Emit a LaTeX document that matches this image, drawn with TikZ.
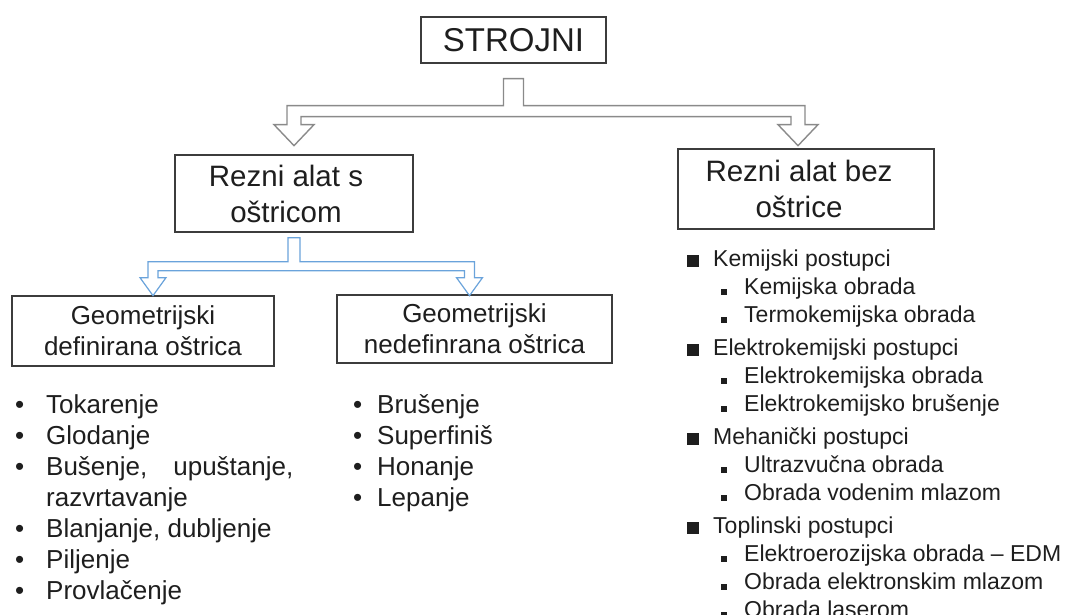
\documentclass[tikz,border=0pt]{standalone}
\usepackage{fontspec}
\setmainfont{Liberation Sans}
\usetikzlibrary{calc}
\definecolor{BoxLine}{HTML}{3C3C3C}
\definecolor{ForkGray}{HTML}{8A8A8A}
\definecolor{ForkBlue}{HTML}{6AA3DB}
\definecolor{TextDark}{HTML}{1E1E1E}
\newcommand{\krug}[1]{\makebox[#1][l]{•}}
\newcommand{\kvadrat}{\makebox[26pt][l]{\rule{12pt}{12pt}}}
\newcommand{\kvadratic}{\hspace*{34pt}\makebox[23pt][l]{\rule{6pt}{6pt}}}

\begin{document}
\begin{tikzpicture}[
  x=1pt,y=-1pt,
  every node/.style={text=TextDark},
  box/.style={draw=BoxLine,line width=1.3pt,align=center,inner sep=0pt},
  forka/.style={draw=ForkGray,line width=1.4pt,fill=white},
  forkb/.style={draw=ForkBlue,line width=1.2pt,fill=white},
  lista/.style={anchor=north west,align=left,inner sep=0pt}
]
\useasboundingbox (0,0) rectangle (1065,615);
\node[box,minimum width=185pt,minimum height=46pt,font=\fontsize{33}{38}\selectfont] (strojni) at (513.5,40) {STROJNI};
\node[box,minimum width=238pt,minimum height=77pt,font=\fontsize{29.5}{36}\selectfont] (rezsa) at (294,193.5) {Rezni alat s\hspace*{16pt}\\oštricom\hspace*{16pt}};
\node[box,minimum width=256pt,minimum height=80pt,font=\fontsize{29.5}{36}\selectfont] (rezbez) at (806,189) {Rezni alat bez\hspace*{14pt}\\oštrice\hspace*{14pt}};
\node[box,minimum width=262pt,minimum height=70pt,font=\fontsize{26}{31}\selectfont] (geodef) at (143,331) {Geometrijski\\definirana oštrica};
\node[box,minimum width=275pt,minimum height=68pt,font=\fontsize{26}{31}\selectfont] (geoned) at (474.5,329) {Geometrijski\\nedefinrana oštrica};

\draw[forka] let \p1=(strojni.south), \p2=(rezsa.north), \p3=($(rezbez.north)+(-8,0)$) in
  (\x1-10pt,\y1-15pt) -- (\x1+10pt,\y1-15pt) -- (\x1+10pt,\y1-42pt) -- (\x3+7pt,\y1-42pt)
  -- (\x3+7pt,\y1-61pt) -- (\x3+20pt,\y1-61pt) -- (\x3,\y1-82pt) -- (\x3-20pt,\y1-61pt)
  -- (\x3-7pt,\y1-61pt) -- (\x3-7pt,\y1-53pt) -- (\x2+7pt,\y1-53pt) -- (\x2+7pt,\y1-61pt)
  -- (\x2+20pt,\y1-61pt) -- (\x2,\y1-82pt) -- (\x2-20pt,\y1-61pt) -- (\x2-7pt,\y1-61pt)
  -- (\x2-7pt,\y1-42pt) -- (\x1-10pt,\y1-42pt) -- cycle;
\draw[forkb] let \p1=(rezsa.south), \p2=($(geodef.north)+(10,0)$), \p3=($(geoned.north)+(-5,0)$) in
  (\x1-6pt,\y1-5pt) -- (\x1+6pt,\y1-5pt) -- (\x1+6pt,\y1-29pt) -- (\x3+5pt,\y1-29pt)
  -- (\x3+5pt,\y1-45pt) -- (\x3+13pt,\y1-45pt) -- (\x3,\y1-63pt) -- (\x3-13pt,\y1-45pt)
  -- (\x3-5pt,\y1-45pt) -- (\x3-5pt,\y1-38pt) -- (\x2+5pt,\y1-38pt) -- (\x2+5pt,\y1-45pt)
  -- (\x2+13pt,\y1-45pt) -- (\x2,\y1-63pt) -- (\x2-13pt,\y1-45pt) -- (\x2-5pt,\y1-45pt)
  -- (\x2-5pt,\y1-29pt) -- (\x1-6pt,\y1-29pt) -- cycle;

\node[lista,font=\fontsize{26}{31}\selectfont] (sdef) at (15,394) {\krug{31pt}Tokarenje\\
  \krug{31pt}Glodanje\\
  \krug{31pt}Bušenje,\hspace{26pt}upuštanje,\\
  \hspace*{31pt}razvrtavanje\\
  \krug{31pt}Blanjanje, dubljenje\\
  \krug{31pt}Piljenje\\
  \krug{31pt}Provlačenje};
\node[lista,font=\fontsize{26}{31}\selectfont] (sned) at (353,394) {\krug{24pt}Brušenje\\
  \krug{24pt}Superfiniš\\
  \krug{24pt}Honanje\\
  \krug{24pt}Lepanje};
\node[lista,font=\fontsize{23}{28}\selectfont] (sbez) at (687,250) {\kvadrat Kemijski postupci\\
  \kvadratic Kemijska obrada\\
  \kvadratic Termokemijska obrada\\[5pt]
  \kvadrat Elektrokemijski postupci\\
  \kvadratic Elektrokemijska obrada\\
  \kvadratic Elektrokemijsko brušenje\\[5pt]
  \kvadrat Mehanički postupci\\
  \kvadratic Ultrazvučna obrada\\
  \kvadratic Obrada vodenim mlazom\\[5pt]
  \kvadrat Toplinski postupci\\
  \kvadratic Elektroerozijska obrada – EDM\\
  \kvadratic Obrada elektronskim mlazom\\
  \kvadratic Obrada laserom};
\end{tikzpicture}
\end{document}
